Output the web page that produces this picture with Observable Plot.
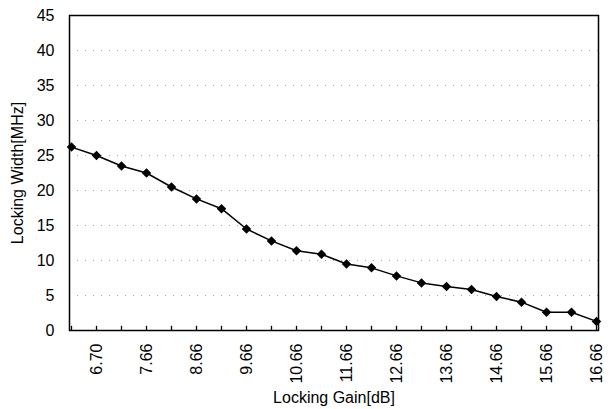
<!DOCTYPE html>
<html>
<head>
<meta charset="utf-8">
<script src="https://cdn.jsdelivr.net/npm/d3@7"></script>
<script src="https://cdn.jsdelivr.net/npm/@observablehq/plot@0.6"></script>
<style>
  html, body { margin: 0; padding: 0; background: #fff; }
  .ttl text { font-size: 17px; }
</style>
</head>
<body>
<div id="chart"></div>
<script>
const gains = ["6.20","6.70","7.16","7.66","8.16","8.66","9.16","9.66","10.16","10.66","11.16","11.66","12.16","12.66","13.16","13.66","14.16","14.66","15.16","15.66","16.16","16.66"];
const labeledGains = ["6.70","7.66","8.66","9.66","10.66","11.66","12.66","13.66","14.66","15.66","16.66"];
const widths = [26.2, 25.0, 23.5, 22.5, 20.5, 18.8, 17.4, 14.5, 12.8, 11.4, 10.9, 9.5, 8.95, 7.8, 6.8, 6.3, 5.85, 4.85, 4.05, 2.6, 2.6, 1.3];
const yTicks = [0, 5, 10, 15, 20, 25, 30, 35, 40, 45];
const gridTicks = [5, 10, 15, 20, 25, 30, 35, 40];

const data = gains.map((g, i) => ({gain: g, width: widths[i]}));

const chart = Plot.plot({
  width: 611,
  height: 409,
  marginLeft: 69,
  marginRight: 13,
  marginTop: 15,
  marginBottom: 79,
  style: {fontFamily: "'Liberation Sans', Arial, sans-serif", fontSize: "16px", color: "#000", background: "#fff"},
  x: {type: "point", domain: gains, padding: 0},
  y: {domain: [0, 45]},
  marks: [
    Plot.gridY(gridTicks, {stroke: "#999", strokeOpacity: 0.9, strokeDasharray: "1 7"}),
    Plot.frame({stroke: "#000", strokeWidth: 1.5}),
    Plot.ruleX(gains, {x: d => d, y1: 0, y2: 0.6, stroke: "#000", strokeWidth: 1.3}),
    Plot.axisY(yTicks, {tickSize: 0, tickPadding: 15, label: null}),
    Plot.axisY({label: "Locking Width[MHz]", ticks: [], tickSize: 0, labelAnchor: "center", labelArrow: "none", labelOffset: 58, className: "ttl"}),
    Plot.axisX(labeledGains, {tickSize: 0, tickPadding: 13, tickRotate: -90, label: null}),
    Plot.axisX({label: "Locking Gain[dB]", ticks: [], tickSize: 0, labelAnchor: "center", labelArrow: "none", labelOffset: 72, className: "ttl"}),
    Plot.line(data, {x: "gain", y: "width", stroke: "#000", strokeWidth: 1.5}),
    Plot.dot(data, {x: "gain", y: "width", symbol: "square", rotate: 45, fill: "#000", r: 3.8})
  ]
});
document.getElementById("chart").appendChild(chart);
</script>
</body>
</html>
